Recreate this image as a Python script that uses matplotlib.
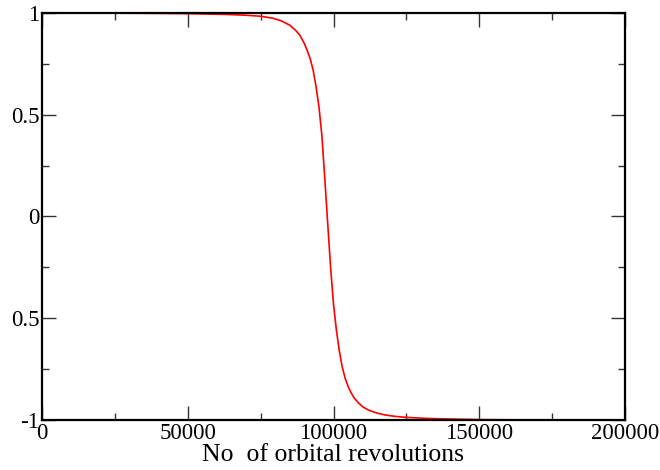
import matplotlib
matplotlib.use("Agg")
import matplotlib.pyplot as plt
from matplotlib.ticker import MultipleLocator

revolutions = [0, 30000, 50000, 63000, 70000, 75000, 79000, 82000, 85000, 87000,
               88500, 90000, 91000, 92000, 93000, 94000, 95000, 96000, 97000,
               98000, 99000, 100000, 101000, 102000, 103000, 104000, 105000,
               106000, 107000, 108500, 110000, 112000, 114000, 116000, 118000,
               121000, 124000, 130000, 136000, 143000, 150000, 160000,
               180000, 200000]
values = [1.0, 0.999, 0.997, 0.993, 0.989, 0.984, 0.975, 0.962, 0.94, 0.915,
          0.89, 0.85, 0.815, 0.775, 0.72, 0.64, 0.54, 0.40, 0.19,
          -0.03, -0.25, -0.43, -0.56, -0.66, -0.74, -0.795, -0.835,
          -0.865, -0.89, -0.915, -0.935, -0.951, -0.962, -0.970, -0.976,
          -0.982, -0.986, -0.991, -0.994, -0.996, -0.998, -0.999,
          -1.0, -1.0]

xticks = [0, 50000, 100000, 150000, 200000]
xtick_labels = ["0", "50000", "100000", "150000", "200000"]
yticks = [-1, -0.5, 0, 0.5, 1]
ytick_labels = ["-1", "0.5", "0", "0.5", "1"]
xlabel = "No  of orbital revolutions"

plt.rcParams['font.family'] = ['Liberation Serif', 'DejaVu Serif']

fig = plt.figure(figsize=(6.6, 4.7), dpi=100)
ax = fig.add_axes([42/660, 1-420/470, (625-42)/660, (420-13)/470])
ax.plot(revolutions, values, color='red', lw=1.2)
ax.set_xlim(0, 200000)
ax.set_ylim(-1, 1)
ax.set_xticks(xticks)
ax.set_xticklabels(xtick_labels)
ax.set_yticks(yticks)
ax.set_yticklabels(ytick_labels)
ax.xaxis.set_minor_locator(MultipleLocator(25000))
ax.yaxis.set_minor_locator(MultipleLocator(0.25))
ax.tick_params(which='both', direction='in', top=True, right=True,
               labelsize=16.5, width=1, color='#333333')
ax.tick_params(which='major', length=10, pad=2)
ax.tick_params(which='minor', length=5)
for s in ax.spines.values():
    s.set_linewidth(1.6)
ax.set_xlabel(xlabel, fontsize=18.5, labelpad=0)
fig.savefig("out.png", dpi=100)
